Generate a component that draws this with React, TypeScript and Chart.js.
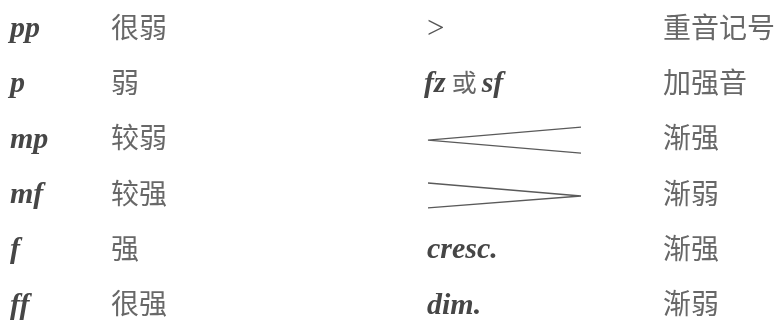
import React, { useEffect, useRef } from "react";
import { Chart, registerables } from "chart.js";

Chart.register(...registerables);

// ---- data ----
const symbols = ["pp", "p", "mp", "mf", "f", "ff"];
const symbolMeanings = ["很弱", "弱", "较弱", "较强", "强", "很强"];
const markKinds = ["accent", "mixed", "crescHairpin", "dimHairpin", "italic", "italic"];
const markTexts = [">", "fz|或|sf", "", "", "cresc.", "dim."];
const markMeanings = ["重音记号", "加强音", "渐强", "渐弱", "渐强", "渐弱"];
const rows = [0, 1, 2, 3, 4, 5];

// ---- layout (scale units) ----
const COLS = [10, 111, 427, 663];
const HAIRPIN_START = 428;
const HAIRPIN_END = 581;

const LATIN = "bold italic 30px 'Liberation Serif'";
const CJK = "28px 'Noto Sans CJK SC'";
const LATIN_COLOR = "#464646";
const CJK_COLOR = "#686868";

const textPlugin = {
  id: "tableText",
  afterDatasetsDraw(chart: any) {
    const ctx = chart.ctx as CanvasRenderingContext2D;
    chart.data.datasets.forEach((ds: any, di: number) => {
      if (!ds.textKind) return;
      const meta = chart.getDatasetMeta(di);
      meta.data.forEach((el: any, i: number) => {
        const x = el.x;
        const y = el.y;
        const label = ds.labels[i];
        const kind = ds.textKind === "marks" ? markKinds[i] : ds.textKind;
        ctx.save();
        ctx.textAlign = "left";
        if (kind === "latin" || kind === "italic") {
          ctx.font = LATIN;
          ctx.fillStyle = LATIN_COLOR;
          ctx.textBaseline = "alphabetic";
          ctx.fillText(label, x, y + 10);
        } else if (kind === "cjk") {
          ctx.font = CJK;
          ctx.fillStyle = CJK_COLOR;
          ctx.textBaseline = "middle";
          ctx.fillText(label, x, y);
        } else if (kind === "accent") {
          ctx.font = "31px 'Liberation Serif'";
          ctx.fillStyle = "#555";
          ctx.textBaseline = "middle";
          ctx.fillText(label, x, y + 3);
        } else if (kind === "mixed") {
          const parts = label.split("|");
          let cx = x - 3;
          parts.forEach((p: string, k: number) => {
            if (k % 2 === 0) {
              ctx.font = LATIN;
              ctx.fillStyle = LATIN_COLOR;
              ctx.textBaseline = "alphabetic";
              ctx.fillText(p, cx, y + 10);
              cx += ctx.measureText(p).width + 6;
            } else {
              ctx.font = "25px 'Noto Sans CJK SC'";
              ctx.fillStyle = CJK_COLOR;
              ctx.textBaseline = "middle";
              ctx.fillText(p, cx, y);
              cx += ctx.measureText(p).width + 5;
            }
          });
        }
        ctx.restore();
      });
    });
  },
};

export default function App() {
  const ref = useRef<HTMLCanvasElement>(null);
  useEffect(() => {
    if (!ref.current) return;
    const crescRow = markKinds.indexOf("crescHairpin");
    const dimRow = markKinds.indexOf("dimHairpin");
    const hairLine = {
      type: "line" as const,
      showLine: true,
      borderColor: "#5a5a5a",
      borderWidth: 1.4,
      pointRadius: 0,
      fill: false,
      tension: 0,
    };
    const chart = new Chart(ref.current, {
      type: "scatter",
      data: {
        datasets: [
          {
            ...hairLine,
            data: [
              { x: HAIRPIN_END, y: crescRow - 0.19 },
              { x: HAIRPIN_START, y: crescRow + 0.045 },
              { x: HAIRPIN_END, y: crescRow + 0.28 },
            ],
          } as any,
          {
            ...hairLine,
            data: [
              { x: HAIRPIN_START, y: dimRow - 0.18 },
              { x: HAIRPIN_END, y: dimRow + 0.055 },
              { x: HAIRPIN_START, y: dimRow + 0.27 },
            ],
          } as any,
          {
            textKind: "latin",
            labels: symbols,
            data: rows.map((r) => ({ x: COLS[0], y: r })),
            pointRadius: 0,
          } as any,
          {
            textKind: "cjk",
            labels: symbolMeanings,
            data: rows.map((r) => ({ x: COLS[1], y: r })),
            pointRadius: 0,
          } as any,
          {
            textKind: "marks",
            labels: markTexts,
            data: rows.map((r) => ({ x: COLS[2], y: r })),
            pointRadius: 0,
          } as any,
          {
            textKind: "cjk",
            labels: markMeanings,
            data: rows.map((r) => ({ x: COLS[3], y: r })),
            pointRadius: 0,
          } as any,
        ],
      },
      options: {
        animation: false,
        responsive: false,
        devicePixelRatio: 1,
        layout: { padding: 0 },
        plugins: { legend: { display: false }, tooltip: { enabled: false } },
        scales: {
          x: { type: "linear", min: 0, max: 782, display: false },
          y: { type: "linear", min: -0.488, max: 5.316, reverse: true, display: false },
        },
      },
      plugins: [textPlugin],
    });
    return () => chart.destroy();
  }, []);
  return (
    <div style={{ position: "fixed", left: 0, top: 0, width: 782, height: 321, background: "#fff" }}>
      <canvas ref={ref} width={782} height={321} style={{ display: "block" }} />
    </div>
  );
}
